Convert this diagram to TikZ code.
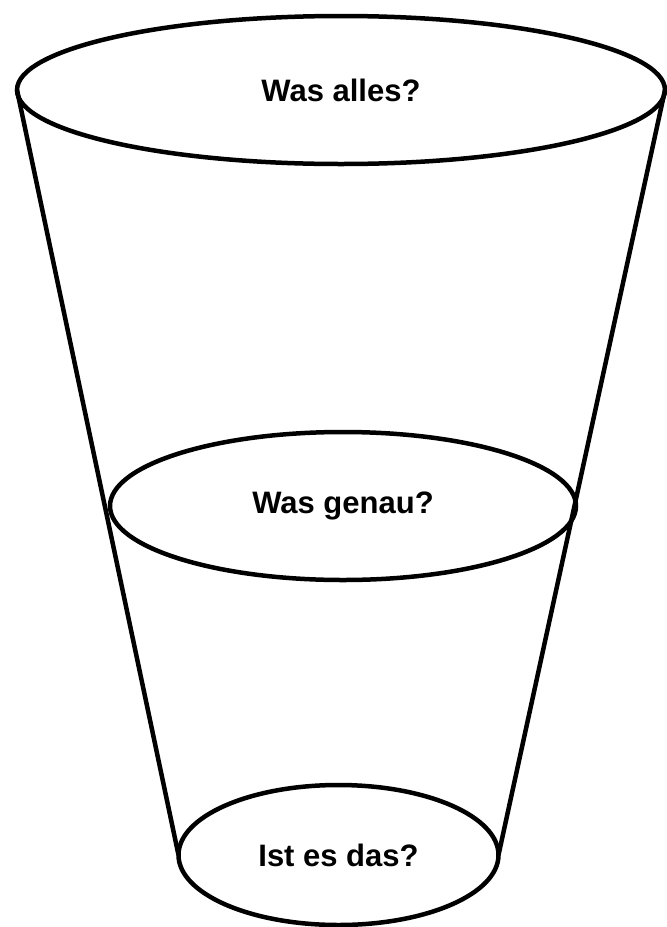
\documentclass[tikz,border=0pt]{standalone}
\usepackage{fontspec}
\setmainfont{Liberation Sans}
\usetikzlibrary{shapes.geometric}
\tikzset{
  lvl/.style={draw, ellipse, line width=4.5pt, inner sep=0pt, outer sep=0pt,
    font=\fontsize{31}{36}\selectfont\bfseries},
  side/.style={line width=4.5pt}
}
\begin{document}
\begin{tikzpicture}[x=1pt,y=-1pt]
\useasboundingbox (0,0) rectangle (667,927);
\node[lvl, minimum width=648pt, minimum height=148pt] (top) at (341,90) {Was alles?};
\node[lvl, minimum width=466pt, minimum height=148pt] (mid) at (343,506) {Was genau?};
\node[lvl, minimum width=320pt, minimum height=140pt] (bot) at (338.5,855) {Ist es das?};
\draw[side] (top.west) -- (bot.west);
\draw[side] (top.east) -- (bot.east);
\end{tikzpicture}
\end{document}
